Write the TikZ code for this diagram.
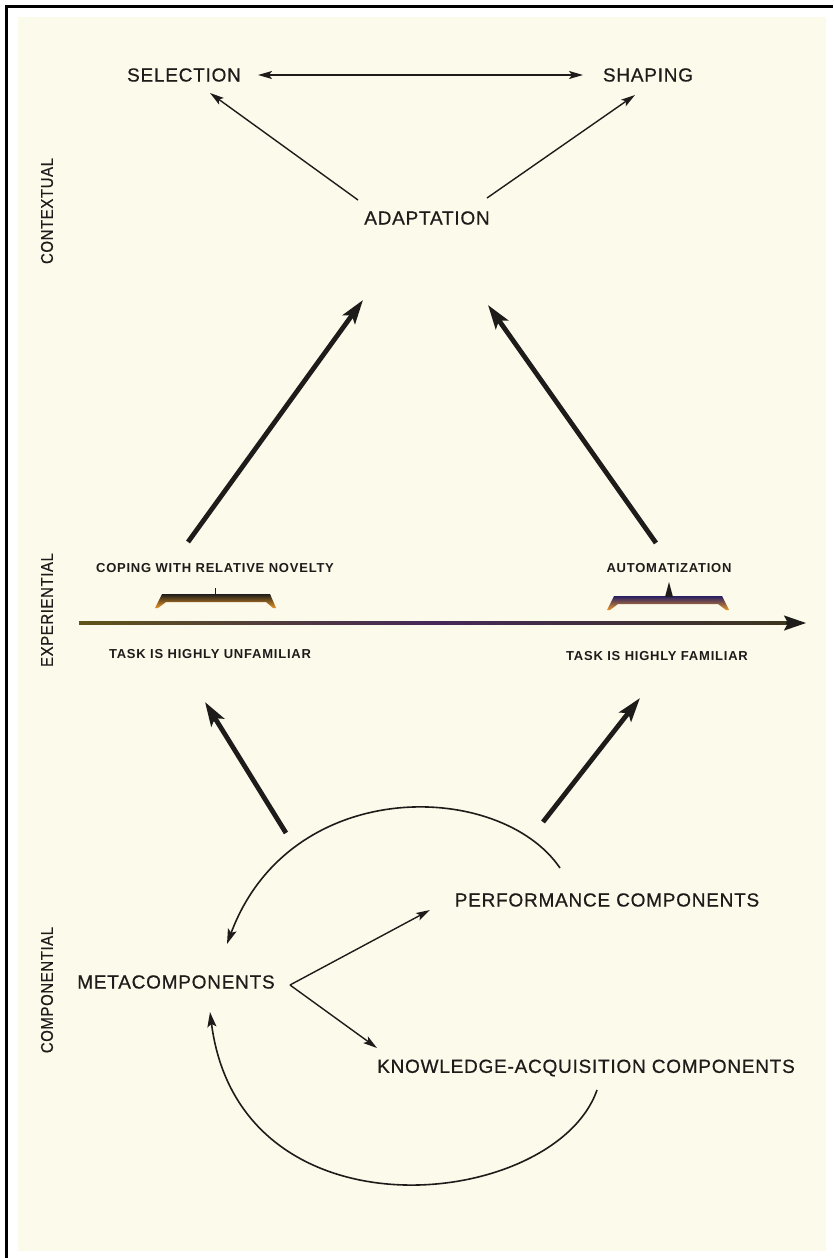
\documentclass[tikz,border=0pt]{standalone}
\usepackage{fontspec}
\setmainfont{Liberation Sans}
\newfontfamily\biglbl[LetterSpace=4,FakeBold=0.6]{Liberation Sans}
\newfontfamily\smalllbl[LetterSpace=6]{Liberation Sans}
\usetikzlibrary{arrows.meta,calc}
\definecolor{paper}{RGB}{252,250,234}
\definecolor{ink}{RGB}{30,28,26}
\definecolor{bandlow}{RGB}{232,150,40}
\definecolor{bandhigh}{RGB}{40,30,100}
\begin{document}
\begin{tikzpicture}[x=1pt,y=-1pt,
  lbl/.style={font=\biglbl\fontsize{19}{22}\selectfont, text=ink, inner sep=0pt},
  slbl/.style={font=\smalllbl\bfseries\fontsize{13}{15}\selectfont, text=ink, inner sep=0pt},
  vlbl/.style={font=\biglbl\fontsize{17}{20}\selectfont, text=ink, inner sep=0pt, rotate=90},
  thinarrow/.style={draw=ink, line width=1.4pt, -{Stealth[length=14pt,width=8pt,inset=3pt]}},
  thickarrow/.style={draw=ink, line width=4.8pt, -{Stealth[length=24pt,width=15pt,inset=5pt]}},
  arcarrow/.style={draw=ink, line width=1.6pt, -{Stealth[length=15pt,width=9pt,inset=3pt]}},
]
% page, cream sheet and frame
\useasboundingbox (0,0) rectangle (833,1258);
\fill[white] (0,0) rectangle (833,1258);
\fill[paper] (18,17) rectangle (826,1251);
\draw[black, line width=3pt] (6,1258) -- (6,6) -- (833,6);

% level labels
\node[vlbl] (ctx) at (47,211) {\scalebox{0.88}[1]{CONTEXTUAL}};
\node[vlbl] (exp) at (47,610) {\scalebox{0.88}[1]{EXPERIENTIAL}};
\node[vlbl] (cmp) at (47,990) {\scalebox{0.88}[1]{COMPONENTIAL}};

% contextual subtheory
\node[lbl] (sel) at (184,75) {SELECTION};
\node[lbl] (shp) at (648,75) {SHAPING};
\node[lbl] (ada) at (427,218) {ADAPTATION};
\draw[thinarrow, {Stealth[length=14pt,width=8pt,inset=3pt]}-{Stealth[length=14pt,width=8pt,inset=3pt]}]
  ($(sel)+(74,0)$) -- ($(shp)+(-65,0)$);
\draw[thinarrow] ($(ada)+(-69,-18)$) -- ($(sel)+(26,18)$);
\draw[thinarrow] ($(ada)+(60,-20)$) -- ($(shp)+(-13,20)$);

% experiential subtheory
\node[slbl] (cop) at (215,568) {COPING WITH RELATIVE NOVELTY};
\node[slbl] (aut) at (669,568) {AUTOMATIZATION};
\node[slbl] (unf) at (210,654) {TASK IS HIGHLY UNFAMILIAR};
\node[slbl] (fam) at (657,656) {TASK IS HIGHLY FAMILIAR};

\draw[thickarrow] ($(cop)+(-27,-26)$) -- ($(ada)+(-64,82)$);
\draw[thickarrow] ($(aut)+(-13,-25)$) -- ($(ada)+(61,87)$);

% brackets over the continuum
\shade[top color=ink, bottom color=bandlow]
  (155,608) -- (162,594) -- (270,594) -- (276,608) -- (273,608) -- (266,602)
  -- (166,602) -- (158,608) -- cycle;
\draw[ink, line width=1pt] (215,595) -- (215,588);
\shade[top color=bandhigh, bottom color=bandlow]
  (607,610) -- (614,596) -- (722,596) -- (729,610) -- (726,610) -- (718,604)
  -- (618,604) -- (610,610) -- cycle;
\fill[ink] (665,597) -- (669,582) -- (673,597) -- cycle;

% novelty-familiarity continuum
\coordinate (axL) at (79,623);
\coordinate (axR) at (806,623);
\shade[left color={rgb,255:red,95;green,85;blue,25}, right color={rgb,255:red,60;green,55;blue,30},
  middle color={rgb,255:red,70;green,40;blue,90}] (79,621.6) rectangle (790,624.4);
\draw[draw=ink, line width=2pt, -{Stealth[length=22pt,width=15pt,inset=4pt]}] ($(axR)+(-20,0)$) -- (axR);

% componential subtheory
\node[lbl] (per) at (607,900) {PERFORMANCE COMPONENTS};
\node[lbl] (met) at (176,982) {METACOMPONENTS};
\node[lbl] (kac) at (586,1068) {KNOWLEDGE-ACQUISITION COMPONENTS};

\coordinate (upL) at (286,833);
\coordinate (upR) at (543,822);
\draw[thickarrow] (upL) -- ($(unf)+(-5,48)$);
\draw[thickarrow] (upR) -- ($(fam)+(-17,42)$);

\coordinate (fork) at ($(met)+(114,3)$);
\draw[thinarrow] (fork) -- ($(per)+(-177,10)$);
\draw[thinarrow] (fork) -- ($(kac)+(-209,-20)$);

\draw[arcarrow] ($(per)+(-47,-32)$) .. controls (500,780) and (290,775) .. ($(met)+(51,-38)$);
\draw[arcarrow] ($(kac)+(11,22)$) .. controls (555,1210) and (240,1245) .. ($(met)+(34,30)$);
\end{tikzpicture}
\end{document}
